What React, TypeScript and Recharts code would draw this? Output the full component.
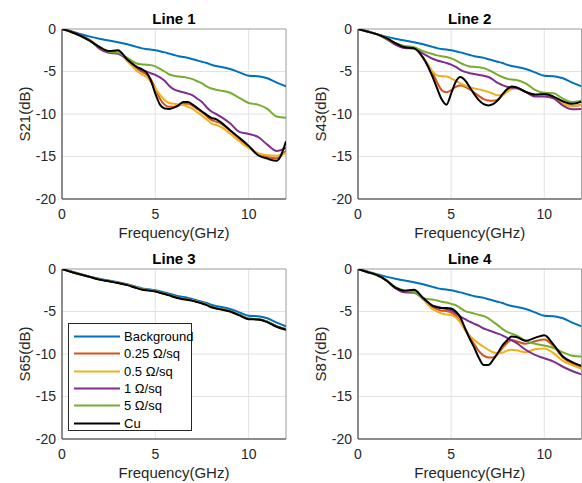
import React from 'react';
import { LineChart, Line, XAxis, YAxis, CartesianGrid, ReferenceArea } from 'recharts';

const FONT = '"Liberation Sans", Arial, Helvetica, sans-serif';

// Frequency grid (GHz)
const freq = [0, 0.5, 1, 1.5, 2, 2.5, 3, 3.5, 4, 4.25, 4.5, 4.75, 5, 5.25, 5.5, 5.75, 6, 6.25, 6.5, 6.75, 7, 7.25, 7.5, 7.75, 8, 8.25, 8.5, 9, 9.5, 10, 10.5, 11, 11.5, 12];

const xTicks = [0, 5, 10];
const yTicks = [-20, -15, -10, -5, 0];

const seriesNames = ['Background', '0.25 Ω/sq', '0.5 Ω/sq', '1 Ω/sq', '5 Ω/sq', 'Cu'];
const seriesColors = ['#0072BD', '#D95319', '#EDB120', '#7E2F8E', '#77AC30', '#000000'];

const titles = ['Line 1', 'Line 2', 'Line 3', 'Line 4'];
const yLabels = ['S21(dB)', 'S43(dB)', 'S65(dB)', 'S87(dB)'];

// Background (same reference measurement in every panel)
const background = [0, -0.3, -0.6, -0.9, -1.15, -1.35, -1.55, -1.8, -2.1, -2.25, -2.35, -2.42, -2.5, -2.62, -2.75, -2.9, -3.05, -3.2, -3.3, -3.4, -3.55, -3.7, -3.85, -4.0, -4.2, -4.35, -4.45, -4.7, -5.1, -5.5, -5.55, -5.8, -6.3, -6.75];

// Line 1 (S21)
const l1Ohm025 = [0, -0.35, -0.8, -1.35, -2.1, -2.6, -2.6, -3.7, -4.6, -5.0, -5.3, -5.9, -7.0, -8.2, -8.9, -9.15, -9.15, -9.0, -8.8, -8.8, -9.05, -9.4, -9.8, -10.25, -10.7, -10.9, -11.1, -11.95, -12.9, -13.85, -14.7, -15.05, -15.2, -14.3];
const l1Ohm05 = [0, -0.35, -0.8, -1.35, -2.1, -2.6, -2.7, -3.8, -4.9, -5.3, -5.6, -6.2, -7.0, -7.75, -8.35, -8.7, -8.8, -8.9, -8.95, -9.15, -9.4, -9.8, -10.2, -10.65, -11.1, -11.3, -11.5, -12.3, -13.2, -14.0, -14.6, -14.85, -14.9, -14.6];
const l1Ohm1 = [0, -0.3, -0.75, -1.35, -2.3, -2.8, -2.9, -3.6, -4.5, -4.85, -5.0, -5.2, -5.4, -5.7, -6.1, -6.7, -7.1, -7.3, -7.45, -7.6, -7.8, -8.2, -8.6, -9.2, -9.7, -10.0, -10.3, -11.1, -12.1, -12.35, -12.7, -13.6, -14.35, -14.0];
const l1Ohm5 = [0, -0.35, -0.85, -1.4, -2.1, -2.65, -2.8, -3.4, -4.05, -4.15, -4.2, -4.25, -4.4, -4.7, -5.0, -5.35, -5.5, -5.6, -5.65, -5.75, -5.9, -6.15, -6.4, -6.75, -7.0, -7.15, -7.25, -7.5, -8.1, -8.7, -8.9, -9.4, -10.3, -10.45];
const l1Cu = [0, -0.35, -0.8, -1.4, -2.1, -2.6, -2.5, -3.6, -4.45, -4.7, -5.05, -6.0, -7.6, -8.9, -9.35, -9.4, -9.25, -8.95, -8.6, -8.6, -8.9, -9.3, -9.7, -10.1, -10.45, -10.6, -10.95, -11.9, -12.8, -13.75, -14.85, -15.25, -15.5, -13.2];

// Line 2 (S43)
const l2Ohm025 = [0, -0.3, -0.6, -1.05, -1.65, -2.15, -2.25, -3.4, -5.1, -6.3, -7.2, -7.45, -7.2, -6.8, -6.65, -6.8, -7.1, -7.5, -7.9, -8.25, -8.4, -8.45, -8.3, -7.8, -7.2, -6.95, -6.95, -7.4, -7.75, -7.75, -8.1, -8.7, -9.05, -8.9];
const l2Ohm05 = [0, -0.3, -0.6, -1.05, -1.65, -2.15, -2.3, -3.4, -5.0, -5.45, -5.55, -5.6, -5.8, -6.1, -6.4, -6.65, -6.85, -7.0, -7.1, -7.25, -7.4, -7.6, -7.8, -7.8, -7.4, -7.05, -7.0, -7.4, -7.85, -7.85, -8.1, -8.75, -9.1, -8.95];
const l2Ohm1 = [0, -0.3, -0.6, -1.15, -1.85, -2.25, -2.3, -2.9, -3.5, -3.7, -3.85, -4.0, -4.2, -4.45, -4.8, -5.05, -5.2, -5.3, -5.4, -5.5, -5.65, -5.95, -6.35, -6.6, -6.8, -6.9, -6.95, -7.4, -7.95, -7.95, -8.15, -9.0, -9.45, -9.4];
const l2Ohm5 = [0, -0.3, -0.6, -1.1, -1.65, -2.0, -2.15, -2.6, -2.95, -3.1, -3.2, -3.3, -3.45, -3.7, -4.0, -4.25, -4.4, -4.45, -4.5, -4.6, -4.8, -5.1, -5.4, -5.65, -5.85, -5.95, -6.0, -6.4, -7.15, -7.5, -7.55, -8.2, -8.6, -8.45];
const l2Cu = [0, -0.3, -0.6, -1.05, -1.65, -2.15, -2.25, -3.4, -5.6, -7.0, -8.3, -8.9, -7.6, -6.2, -5.65, -6.05, -6.85, -7.7, -8.4, -8.85, -9.0, -8.85, -8.4, -7.7, -7.1, -6.75, -6.85, -7.4, -7.7, -7.65, -7.95, -8.5, -8.8, -8.55];

// Line 3 (S65) - sheet-resistance traces lie under the Cu trace
const l3Sheet = [0, -0.33, -0.63, -0.93, -1.22, -1.42, -1.62, -1.87, -2.2, -2.35, -2.45, -2.5, -2.6, -2.75, -2.9, -3.05, -3.25, -3.4, -3.5, -3.6, -3.7, -3.85, -4.0, -4.2, -4.45, -4.6, -4.7, -4.95, -5.4, -5.85, -5.9, -6.2, -6.75, -7.1];
const l3Cu = [0, -0.35, -0.65, -0.95, -1.25, -1.45, -1.65, -1.9, -2.25, -2.4, -2.5, -2.55, -2.65, -2.8, -2.95, -3.1, -3.3, -3.45, -3.55, -3.65, -3.75, -3.9, -4.05, -4.25, -4.5, -4.65, -4.75, -5.0, -5.45, -5.9, -5.95, -6.25, -6.8, -7.15];

// Line 4 (S87)
const l4Ohm025 = [0, -0.35, -0.7, -1.3, -2.2, -2.6, -2.5, -3.5, -4.5, -4.75, -4.9, -4.95, -5.1, -5.5, -6.2, -7.0, -8.0, -8.9, -9.7, -10.2, -10.4, -10.4, -10.0, -9.3, -8.7, -8.35, -8.5, -8.8, -8.5, -8.3, -9.1, -10.4, -11.1, -11.5];
const l4Ohm05 = [0, -0.35, -0.7, -1.3, -2.2, -2.65, -2.6, -3.6, -4.7, -5.0, -5.25, -5.35, -5.4, -5.7, -6.3, -7.2, -7.85, -8.35, -8.8, -9.15, -9.5, -9.8, -9.9, -9.85, -9.6, -9.5, -9.55, -9.8, -9.45, -9.35, -9.9, -10.8, -11.3, -11.75];
const l4Ohm1 = [0, -0.35, -0.7, -1.3, -2.25, -2.75, -2.8, -3.5, -4.3, -4.45, -4.6, -4.7, -4.85, -5.2, -5.6, -5.9, -6.2, -6.45, -6.7, -7.0, -7.2, -7.4, -7.6, -7.8, -8.1, -8.4, -8.7, -9.5, -10.1, -10.5, -10.9, -11.5, -12.0, -12.4];
const l4Ohm5 = [0, -0.35, -0.75, -1.3, -2.1, -2.55, -2.7, -3.4, -3.6, -3.7, -3.85, -3.95, -4.1, -4.25, -4.6, -4.95, -5.1, -5.25, -5.4, -5.55, -5.8, -6.2, -6.6, -7.05, -7.4, -7.6, -7.8, -8.45, -8.8, -9.0, -9.3, -9.8, -10.2, -10.3];
const l4Cu = [0, -0.35, -0.7, -1.3, -2.2, -2.55, -2.45, -3.4, -4.3, -4.5, -4.6, -4.6, -4.65, -5.0, -5.7, -7.0, -8.2, -9.3, -10.5, -11.3, -11.3, -10.7, -9.9, -9.0, -8.4, -7.95, -8.0, -8.45, -8.1, -7.8, -8.9, -10.3, -10.95, -11.4];

const panelSeries = [
  [background, l1Ohm025, l1Ohm05, l1Ohm1, l1Ohm5, l1Cu],
  [background, l2Ohm025, l2Ohm05, l2Ohm1, l2Ohm5, l2Cu],
  [background, l3Sheet, l3Sheet, l3Sheet, l3Sheet, l3Cu],
  [background, l4Ohm025, l4Ohm05, l4Ohm1, l4Ohm5, l4Cu],
];

const tickStyle = { fill: '#262626', fontSize: 14, fontFamily: FONT };

function Panel({ idx, left, top, width, rightMargin }: any) {
  const series = panelSeries[idx];
  const data = freq.map((f, i) => {
    const row: any = { f };
    series.forEach((s, k) => { row['s' + k] = s[i]; });
    return row;
  });
  const plotLeft = 62;
  const plotRight = width - rightMargin;
  const cx = (plotLeft + plotRight) / 2;
  return (
    <div style={{ position: 'absolute', left, top, width, height: 240 }}>
      <LineChart width={width} height={240} data={data} margin={{ top: 29, right: rightMargin, bottom: 11, left: 0 }}>
        <CartesianGrid stroke="#e2e2e2" strokeWidth={1} />
        <ReferenceArea x1={0} x2={12} y1={-20} y2={0} fill="none" stroke="#a8a8a8" strokeWidth={1} />
        <XAxis
          dataKey="f"
          type="number"
          domain={[0, 12]}
          ticks={xTicks}
          interval={0}
          height={30}
          tickLine={false}
          tickSize={6}
          tickMargin={4}
          axisLine={{ stroke: '#4d4d4d', strokeWidth: 1 }}
          tick={tickStyle}
          allowDataOverflow
        />
        <YAxis
          type="number"
          domain={[-20, 0]}
          ticks={yTicks}
          interval={0}
          width={62}
          tickLine={false}
          tickSize={6}
          tickMargin={0}
          axisLine={{ stroke: '#4d4d4d', strokeWidth: 1 }}
          tick={tickStyle}
          allowDataOverflow
        />
        {series.map((s, k) => (
          <Line
            key={k}
            type="monotone"
            dataKey={'s' + k}
            stroke={seriesColors[k]}
            strokeWidth={2}
            dot={false}
            activeDot={false}
            isAnimationActive={false}
          />
        ))}
      </LineChart>
      <div style={{ position: 'absolute', left: cx - 60, width: 120, top: 10, textAlign: 'center', fontFamily: FONT, fontWeight: 'bold', fontSize: 15, lineHeight: '17px', color: '#000' }}>
        {titles[idx]}
      </div>
      <div style={{ position: 'absolute', left: cx - 80, width: 160, top: 224, textAlign: 'center', fontFamily: FONT, fontSize: 15, lineHeight: '17px', color: '#262626' }}>
        Frequency(GHz)
      </div>
      <div style={{ position: 'absolute', left: 24, top: 114, transform: 'translate(-50%, -50%) rotate(-90deg)', whiteSpace: 'nowrap', fontFamily: FONT, fontSize: 15, lineHeight: '17px', color: '#262626' }}>
        {yLabels[idx]}
      </div>
    </div>
  );
}

function LegendBox() {
  return (
    <div style={{ position: 'absolute', left: 68, top: 323, width: 124, height: 108, border: '1px solid #262626', background: '#fff', boxSizing: 'border-box' }}>
      {seriesNames.map((name, k) => (
        <div key={k} style={{ position: 'absolute', left: 0, top: 12.5 + k * 17.3 - 8.5, height: 17, width: 122 }}>
          <svg width={50} height={17} style={{ position: 'absolute', left: 4, top: 0 }}>
            <line x1={1} y1={8.5} x2={47} y2={8.5} stroke={seriesColors[k]} strokeWidth={2} />
          </svg>
          <span style={{ position: 'absolute', left: 55, top: 0, fontFamily: FONT, fontSize: 13, lineHeight: '17px', color: '#000', whiteSpace: 'nowrap' }}>{name}</span>
        </div>
      ))}
    </div>
  );
}

export default function App() {
  return (
    <div style={{ position: 'absolute', left: 0, top: 0, width: 582, height: 483, overflow: 'hidden', background: '#fff' }}>
      <Panel idx={0} left={0} top={0} width={290} rightMargin={4} />
      <Panel idx={1} left={296} top={0} width={286} rightMargin={0.5} />
      <Panel idx={2} left={0} top={240} width={290} rightMargin={4} />
      <Panel idx={3} left={296} top={240} width={286} rightMargin={0.5} />
      <LegendBox />
    </div>
  );
}
